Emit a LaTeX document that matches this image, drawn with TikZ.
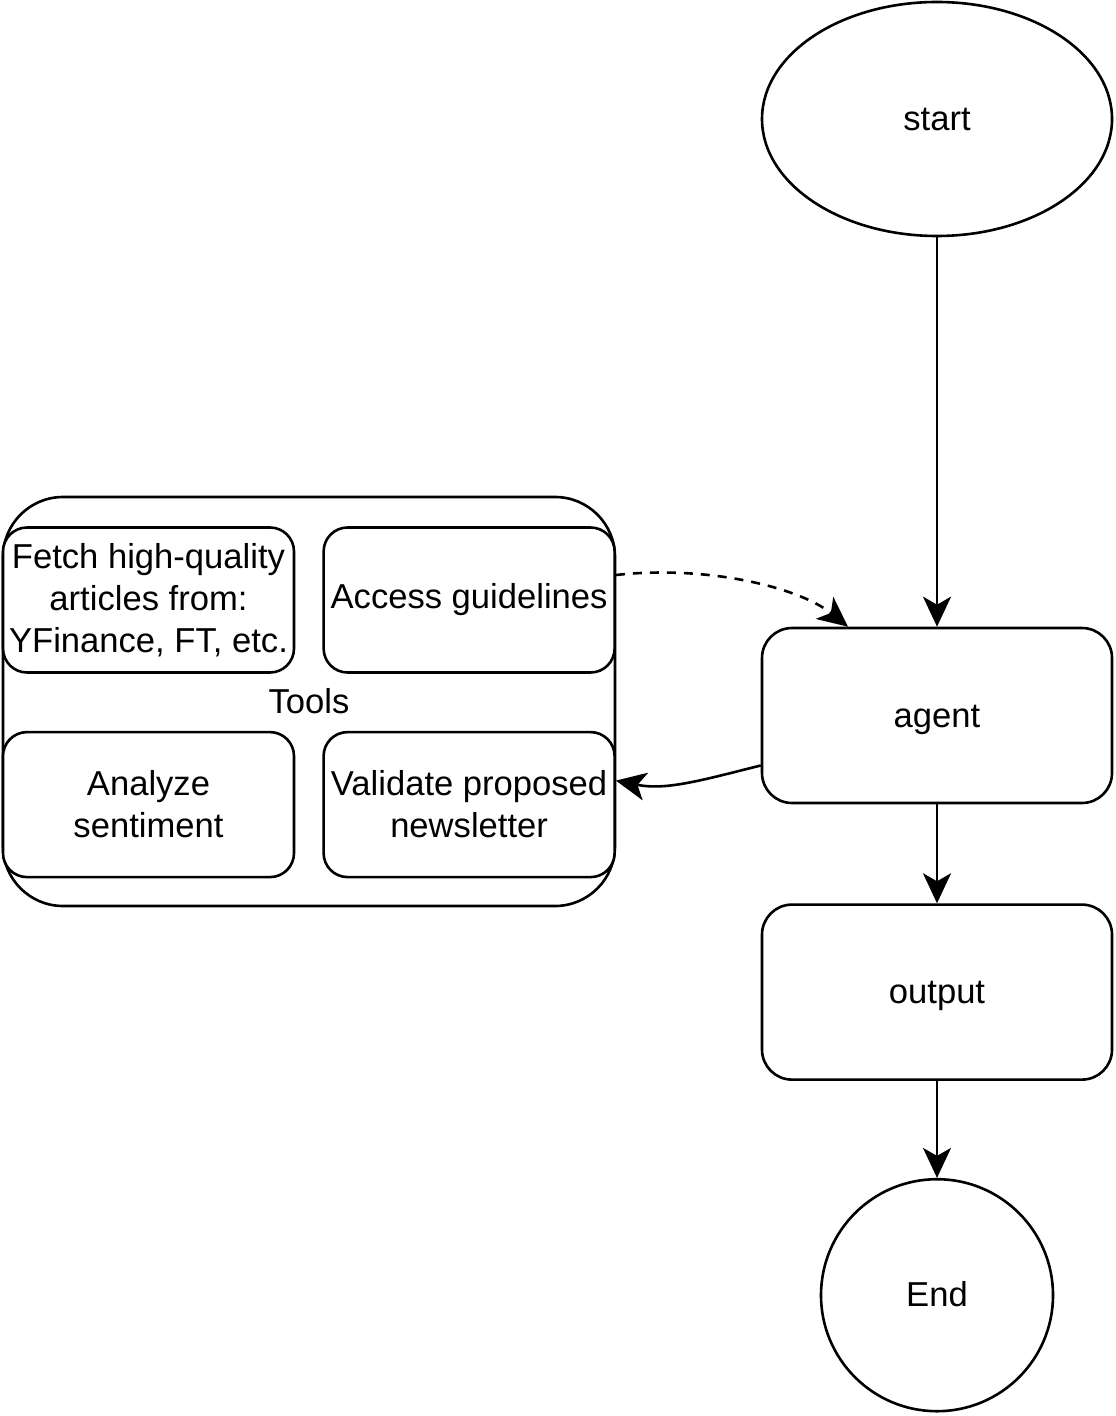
\documentclass[tikz,border=0pt]{standalone}
\usepackage{fontspec}
\setmainfont{Liberation Sans}
\usetikzlibrary{arrows.meta,shapes.geometric,positioning}

\begin{document}
\begin{tikzpicture}[x=0.5pt,y=-0.5pt,->,>={Stealth[length=15pt,width=14pt,inset=4pt]},
                    line width=1.3pt,font=\fontsize{17.3}{21}\selectfont]
  \tikzstyle{block}=[rectangle,draw=black,fill=white,rounded corners=15pt,minimum width=175pt,minimum height=87.5pt,text height=15pt,text depth=3.5pt]
  \tikzstyle{tool}=[rectangle,draw=black,fill=white,rounded corners=12pt,minimum width=145.5pt,minimum height=72.5pt,align=center,inner sep=1pt]
  \tikzstyle{terminal}=[draw=black,fill=white,inner sep=0pt,text height=15pt,text depth=3.5pt]

  \useasboundingbox (0,0) rectangle (1115,1416);

  \node[terminal,ellipse,minimum width=175pt,minimum height=117pt] (start) at (937,119) {start};
  \node[block] (agent)  at (937,715.5)          {agent};
  \node[block] (output) [below=49.5pt of agent]  {output};
  \node[terminal,circle,minimum size=116pt] (end) [below=48.5pt of output] {End};

  % tools group
  \node[draw=black,rounded corners=30pt,minimum width=306pt,minimum height=204.5pt] (tools) at (309,701.5) {Tools};
  \node[tool] (fetch)    at (148.5,600)               {Fetch high-quality\\articles from:\\YFinance, FT, etc.};
  \node[tool] (access)   [right=13.5pt of fetch]      {Access guidelines};
  \node[tool] (analyze)  [below=28.5pt of fetch]      {Analyze\\sentiment};
  \node[tool] (validate) [right=13.5pt of analyze]    {Validate proposed\\newsletter};

  \path (start)  edge (agent)
        (agent)  edge (output)
        (output) edge (end);
  \draw[dash pattern=on 4.5pt off 4pt] ([yshift=12.5pt]access.east) .. controls +(90,-10) and +(-50,-40) .. ([xshift=-44.5pt]agent.north);
  \draw ([yshift=-25pt]agent.west) .. controls +(-60,15) and +(50,10) .. ([yshift=12pt]validate.east);
\end{tikzpicture}
\end{document}
